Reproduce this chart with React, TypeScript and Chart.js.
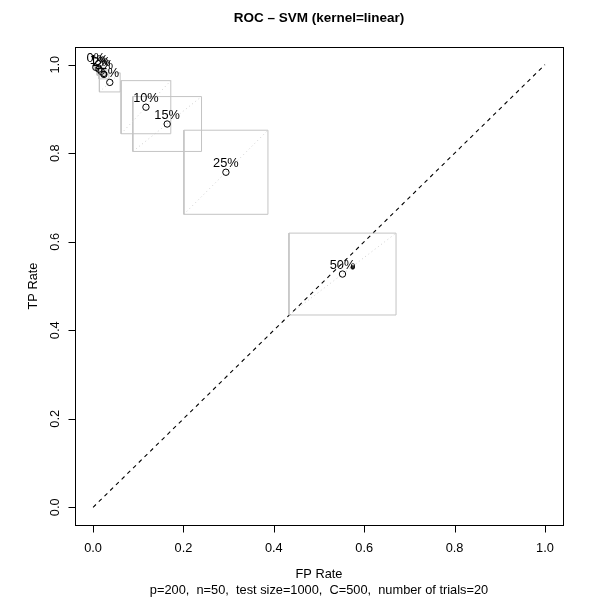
import React, { useEffect, useRef } from "react";
import { Chart, registerables } from "chart.js";
Chart.register(...registerables);

// ---- data ----
const pctLabels = ["0%", "1%", "2%", "3%", "5%", "10%", "15%", "25%", "50%"];
const fpMean = [0.006, 0.013, 0.018, 0.024, 0.037, 0.117, 0.164, 0.294, 0.552];
const tpMean = [0.994, 0.99, 0.985, 0.978, 0.96, 0.904, 0.866, 0.757, 0.527];
const fpSd = [0.004, 0.006, 0.009, 0.011, 0.023, 0.055, 0.076, 0.093, 0.1185];
const tpSd = [0.004, 0.006, 0.009, 0.01, 0.0215, 0.06, 0.062, 0.095, 0.0925];
const extraFp = [0.5745];
const extraTp = [0.542];
const tickValues = [0, 0.2, 0.4, 0.6, 0.8, 1.0];
const tickLabels = ["0.0", "0.2", "0.4", "0.6", "0.8", "1.0"];
const axisMin = -0.04;
const axisMax = 1.04;
const titleText = "ROC \u2013 SVM (kernel=linear)";
const xTitle = "FP Rate";
const yTitle = "TP Rate";
const subTitle = "p=200,  n=50,  test size=1000,  C=500,  number of trials=20";

const FONT = "'Liberation Sans', Arial, Helvetica, sans-serif";
const FS = 12.8;

const rPlot = {
  id: "rPlot",
  afterDatasetsDraw(chart: any) {
    const ctx = chart.ctx;
    const xs = chart.scales.x;
    const ys = chart.scales.y;
    ctx.save();
    ctx.fillStyle = "#000";
    ctx.font = `${FS}px ${FONT}`;
    ctx.textAlign = "center";
    ctx.textBaseline = "middle";
    pctLabels.forEach((l, i) => {
      const px = xs.getPixelForValue(fpMean[i]);
      const py = ys.getPixelForValue(tpMean[i]);
      ctx.fillText(l, px, py - 8.5);
    });
    ctx.restore();
  },
  afterDraw(chart: any) {
    const ctx = chart.ctx;
    const a = chart.chartArea;
    const xs = chart.scales.x;
    const ys = chart.scales.y;
    ctx.save();
    ctx.strokeStyle = "#000";
    ctx.lineWidth = 1;
    ctx.strokeRect(Math.round(a.left) + 0.5, Math.round(a.top) + 0.5, Math.round(a.right - a.left), Math.round(a.bottom - a.top));
    const bx = Math.round(a.bottom) + 0.5;
    ctx.beginPath();
    ctx.moveTo(xs.getPixelForValue(tickValues[0]), bx);
    ctx.lineTo(xs.getPixelForValue(tickValues[tickValues.length - 1]), bx);
    tickValues.forEach((v) => {
      const px = Math.round(xs.getPixelForValue(v)) + 0.5;
      ctx.moveTo(px, bx);
      ctx.lineTo(px, bx + 7);
    });
    const lx = Math.round(a.left) + 0.5;
    ctx.moveTo(lx, ys.getPixelForValue(tickValues[0]));
    ctx.lineTo(lx, ys.getPixelForValue(tickValues[tickValues.length - 1]));
    tickValues.forEach((v) => {
      const py = Math.round(ys.getPixelForValue(v)) + 0.5;
      ctx.moveTo(lx, py);
      ctx.lineTo(lx - 7, py);
    });
    ctx.stroke();
    ctx.fillStyle = "#000";
    ctx.font = `${FS}px ${FONT}`;
    ctx.textAlign = "center";
    ctx.textBaseline = "middle";
    tickValues.forEach((v, i) => {
      ctx.fillText(tickLabels[i], xs.getPixelForValue(v), a.bottom + 23.5);
    });
    tickValues.forEach((v, i) => {
      ctx.save();
      ctx.translate(a.left - 19.5, ys.getPixelForValue(v));
      ctx.rotate(-Math.PI / 2);
      ctx.fillText(tickLabels[i], 0, 0);
      ctx.restore();
    });
    const cx = (a.left + a.right) / 2;
    const cy = (a.top + a.bottom) / 2;
    ctx.fillText(xTitle, cx, a.bottom + 49.5);
    ctx.fillText(subTitle, cx, a.bottom + 65);
    ctx.save();
    ctx.translate(a.left - 42, cy);
    ctx.rotate(-Math.PI / 2);
    ctx.fillText(yTitle, 0, 0);
    ctx.restore();
    ctx.font = `bold 13.5px ${FONT}`;
    ctx.fillText(titleText, cx, 18);
    ctx.restore();
  },
};

export default function App() {
  const ref = useRef<HTMLCanvasElement | null>(null);
  useEffect(() => {
    if (!ref.current) return;
    const datasets: any[] = [];
    datasets.push({
      data: [
        { x: 0, y: 0 },
        { x: 1, y: 1 },
      ],
      showLine: true,
      borderColor: "#000",
      borderWidth: 1.1,
      borderDash: [4, 4],
      pointRadius: 0,
      order: 5,
    });
    pctLabels.forEach((_, i) => {
      const x0 = fpMean[i] - fpSd[i];
      const x1 = fpMean[i] + fpSd[i];
      const y0 = tpMean[i] - tpSd[i];
      const y1 = tpMean[i] + tpSd[i];
      datasets.push({
        data: [
          { x: x0, y: y0 },
          { x: x1, y: y0 },
          { x: x1, y: y1 },
          { x: x0, y: y1 },
          { x: x0, y: y0 },
        ],
        showLine: true,
        borderColor: "#c4c4c4",
        borderWidth: 1,
        pointRadius: 0,
        order: 4,
      });
      datasets.push({
        data: [
          { x: x0, y: y0 },
          { x: x1, y: y1 },
        ],
        showLine: true,
        borderColor: "#cfcfcf",
        borderWidth: 1,
        borderDash: [1, 3],
        pointRadius: 0,
        order: 4,
      });
    });
    datasets.push({
      data: fpMean.map((x, i) => ({ x, y: tpMean[i] })),
      showLine: false,
      pointRadius: 3.2,
      pointBorderColor: "#000",
      pointBackgroundColor: "rgba(0,0,0,0)",
      pointBorderWidth: 1,
      order: 1,
    });
    datasets.push({
      data: extraFp.map((x, i) => ({ x, y: extraTp[i] })),
      showLine: false,
      pointRadius: 1.8,
      pointBorderColor: "#333",
      pointBackgroundColor: "#333",
      pointBorderWidth: 1,
      order: 1,
    });
    const chart = new Chart(ref.current, {
      type: "scatter",
      data: { datasets },
      options: {
        animation: false,
        responsive: false,
        devicePixelRatio: 1,
        layout: { padding: { left: 75, right: 29, top: 47, bottom: 76 } },
        plugins: { legend: { display: false }, tooltip: { enabled: false }, title: { display: false } },
        scales: {
          x: { type: "linear", min: axisMin, max: axisMax, display: false },
          y: { type: "linear", min: axisMin, max: axisMax, display: false },
        },
      },
      plugins: [rPlot],
    });
    return () => chart.destroy();
  }, []);
  return (
    <div style={{ position: "absolute", left: 0, top: 0, width: 592, height: 601, background: "#fff" }}>
      <canvas ref={ref} width={592} height={601} style={{ display: "block", width: 592, height: 601 }} />
    </div>
  );
}
